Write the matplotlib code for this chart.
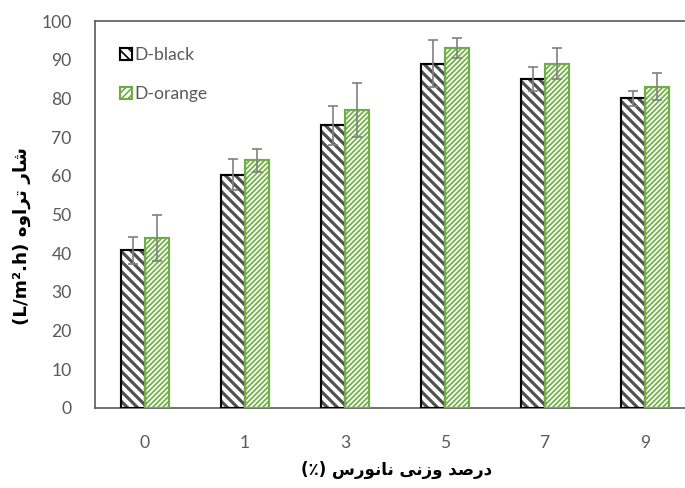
import numpy as np
import matplotlib
matplotlib.use("Agg")
import matplotlib.pyplot as plt
from matplotlib.patches import Patch

# data
categories = ["0", "1", "3", "5", "7", "9"]
black_vals = [40.7, 60.3, 73.0, 89.0, 85.0, 80.0]
black_err = [3.5, 4.0, 5.0, 6.0, 3.0, 2.0]
orange_vals = [44.0, 64.0, 77.0, 93.0, 89.0, 83.0]
orange_err = [6.0, 3.0, 7.0, 2.5, 4.0, 3.5]
series_names = ["D-black", "D-orange"]

# --- tiny Arabic/Persian shaper (matplotlib has no bidi / shaping) ---
# char: (isolated, final, initial, medial); None for initial/medial = right-joining only
FORMS = {
    "ا": ("\uFE8D", "\uFE8E", None, None),
    "د": ("\uFEA9", "\uFEAA", None, None),
    "ر": ("\uFEAD", "\uFEAE", None, None),
    "ز": ("\uFEAF", "\uFEB0", None, None),
    "و": ("\uFEED", "\uFEEE", None, None),
    "ت": ("\uFE95", "\uFE96", "\uFE97", "\uFE98"),
    "س": ("\uFEB1", "\uFEB2", "\uFEB3", "\uFEB4"),
    "ش": ("\uFEB5", "\uFEB6", "\uFEB7", "\uFEB8"),
    "ص": ("\uFEB9", "\uFEBA", "\uFEBB", "\uFEBC"),
    "ن": ("\uFEE5", "\uFEE6", "\uFEE7", "\uFEE8"),
    "ه": ("\uFEE9", "\uFEEA", "\uFEEB", "\uFEEC"),
    "ی": ("\uFEEF", "\uFEF0", "\uFEF3", "\uFEF4"),
}


def shape(word):
    out = []
    for i, ch in enumerate(word):
        iso, fin, ini, med = FORMS[ch]
        prev_joins = i > 0 and FORMS[word[i - 1]][2] is not None
        next_joins = i < len(word) - 1 and ini is not None
        if prev_joins and next_joins:
            out.append(med)
        elif prev_joins:
            out.append(fin)
        elif next_joins:
            out.append(ini)
        else:
            out.append(iso)
    return "".join(reversed(out))


def rtl(words):
    return " ".join(shape(w) for w in reversed(words))


xlabel = "(\u066A) " + rtl(["درصد", "وزنی", "نانورس"])
ylabel = "(L/m\u00B2.h) " + rtl(["شار", "تراوه"])

DPI = 120
plt.rcParams["font.family"] = ["Lato", "DejaVu Sans"]
fig = plt.figure(figsize=(685 / DPI, 488 / DPI), dpi=DPI)
ax = fig.add_axes([95 / 685, 80 / 488, 600 / 685, 387 / 488])

x = np.arange(len(categories))
w = 0.24
gray = "#595959"
green = "#70AD47"
black_hatch = "\\" * 4
green_hatch = "/" * 8

with plt.rc_context({"hatch.linewidth": 1.9}):
    ax.bar(x - w / 2, black_vals, w, color="white", edgecolor="#505050",
           hatch=black_hatch, linewidth=0, zorder=2)
ax.bar(x - w / 2, black_vals, w, fill=False, edgecolor="black", linewidth=1.3,
       zorder=3)
with plt.rc_context({"hatch.linewidth": 1.1}):
    ax.bar(x + w / 2, orange_vals, w, color="white", edgecolor="#74B34A",
           hatch=green_hatch, linewidth=0, zorder=2)
ax.bar(x + w / 2, orange_vals, w, fill=False, edgecolor=green, linewidth=1.3,
       zorder=3)

ax.errorbar(x - w / 2, black_vals, yerr=black_err, fmt="none", ecolor="#808080",
            elinewidth=1.0, capsize=3, capthick=1.0, zorder=4)
ax.errorbar(x + w / 2, orange_vals, yerr=orange_err, fmt="none", ecolor="#808080",
            elinewidth=1.0, capsize=3, capthick=1.0, zorder=4)

ax.set_xlim(-0.5, len(categories) - 0.5)
ax.set_ylim(0, 100)
ax.set_yticks(np.arange(0, 101, 10))
ax.set_xticks(x)
ax.set_xticklabels(categories)
ax.tick_params(length=0, labelsize=10.5, colors=gray, pad=14)
ax.tick_params(axis="x", pad=16)
for side in ["left", "bottom", "top"]:
    ax.spines[side].set_color(gray)
    ax.spines[side].set_linewidth(1.0)
ax.spines["right"].set_visible(False)

with plt.rc_context({"hatch.linewidth": 1.2}):
    handles = [
        Patch(facecolor="white", edgecolor="black", hatch="\\" * 4, linewidth=1.3),
        Patch(facecolor="white", edgecolor=green, hatch="/" * 6, linewidth=1.3),
    ]
leg = ax.legend(handles, series_names, loc="upper left", bbox_to_anchor=(0.027, 0.955),
                frameon=False, fontsize=10.5, handlelength=0.7, handleheight=0.7,
                handletextpad=0.15, labelspacing=1.3, borderpad=0)
for t in leg.get_texts():
    t.set_color(gray)

fig.text(397 / 685, 1 - 470 / 488, xlabel, ha="center", va="center",
         fontsize=10, fontweight="bold", family=["DejaVu Sans"])
fig.text(22 / 685, 1 - 236 / 488, ylabel, ha="center", va="center", rotation=90,
         fontsize=11, fontweight="bold", family=["DejaVu Sans"])

fig.savefig("out.png", dpi=DPI)
